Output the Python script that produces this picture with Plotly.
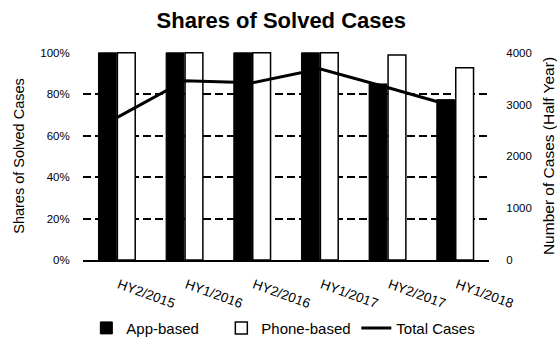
import plotly.graph_objects as go

periods = ["HY2/2015", "HY1/2016", "HY2/2016", "HY1/2017", "HY2/2017", "HY1/2018"]
app_share = [1.00, 1.00, 1.00, 1.00, 0.85, 0.774]
phone_share = [1.00, 1.00, 1.00, 1.00, 0.99, 0.928]
total_cases = [2750, 3460, 3420, 3690, 3330, 2960]

FONT = "Liberation Sans, Arial, sans-serif"

fig = go.Figure()
fig.add_trace(go.Bar(
    x=periods, y=app_share, name="App-based",
    marker=dict(color="#000000", line=dict(color="#000000", width=1)),
))
fig.add_trace(go.Bar(
    x=periods, y=phone_share, name="Phone-based",
    marker=dict(color="#ffffff", line=dict(color="#000000", width=1.5)),
))
fig.add_trace(go.Scatter(
    x=periods, y=total_cases, name="Total Cases", yaxis="y2",
    mode="lines", line=dict(color="#000000", width=3),
))

# small headroom so the top gridline (100%) is still drawn
TOP = 1.004

fig.update_layout(
    width=557, height=339,
    margin=dict(l=83, r=68, t=52, b=79, autoexpand=False),
    paper_bgcolor="white", plot_bgcolor="white",
    font=dict(family=FONT, size=12, color="#000000"),
    barmode="group", bargap=0.44, bargroupgap=0.06,
    title=dict(text="<b>Shares of Solved Cases</b>", x=0.505, xref="container",
               y=0.94, yref="container", xanchor="center", yanchor="middle",
               font=dict(size=22, family=FONT)),
    xaxis=dict(
        showline=True, linecolor="#000000", linewidth=2,
        tickangle=20, tickfont=dict(size=13.5), showgrid=False,
        ticks="outside", ticklen=10, tickcolor="rgba(0,0,0,0)", ticklabelshift=2,
    ),
    yaxis=dict(
        range=[0, TOP], tickvals=[0, 0.2, 0.4, 0.6, 0.8, 1.0], tickformat=".0%",
        showgrid=True, gridcolor="#000000", gridwidth=2, griddash="8px,4px",
        zeroline=False, showline=False,
        ticks="outside", ticklen=10, tickcolor="rgba(0,0,0,0)",
        tickfont=dict(size=11.5),
        title=dict(text="Shares of Solved Cases", font=dict(size=14.5), standoff=12),
    ),
    yaxis2=dict(
        range=[0, 4000 * TOP], tickvals=[0, 1000, 2000, 3000, 4000], overlaying="y", side="right",
        showgrid=False, zeroline=False, showline=False,
        ticks="outside", ticklen=14, tickcolor="rgba(0,0,0,0)",
        tickfont=dict(size=11.5),
        title=dict(text="Number of Cases (Half Year)", font=dict(size=15.5), standoff=12),
    ),
    legend=dict(
        orientation="h", xref="container", yref="container",
        x=0.155, y=0.032, xanchor="left", yanchor="middle",
        font=dict(size=15), itemwidth=30, tracegroupgap=0,
        entrywidth=90, entrywidthmode="pixels",
    ),
)

fig.write_html("out.html")
